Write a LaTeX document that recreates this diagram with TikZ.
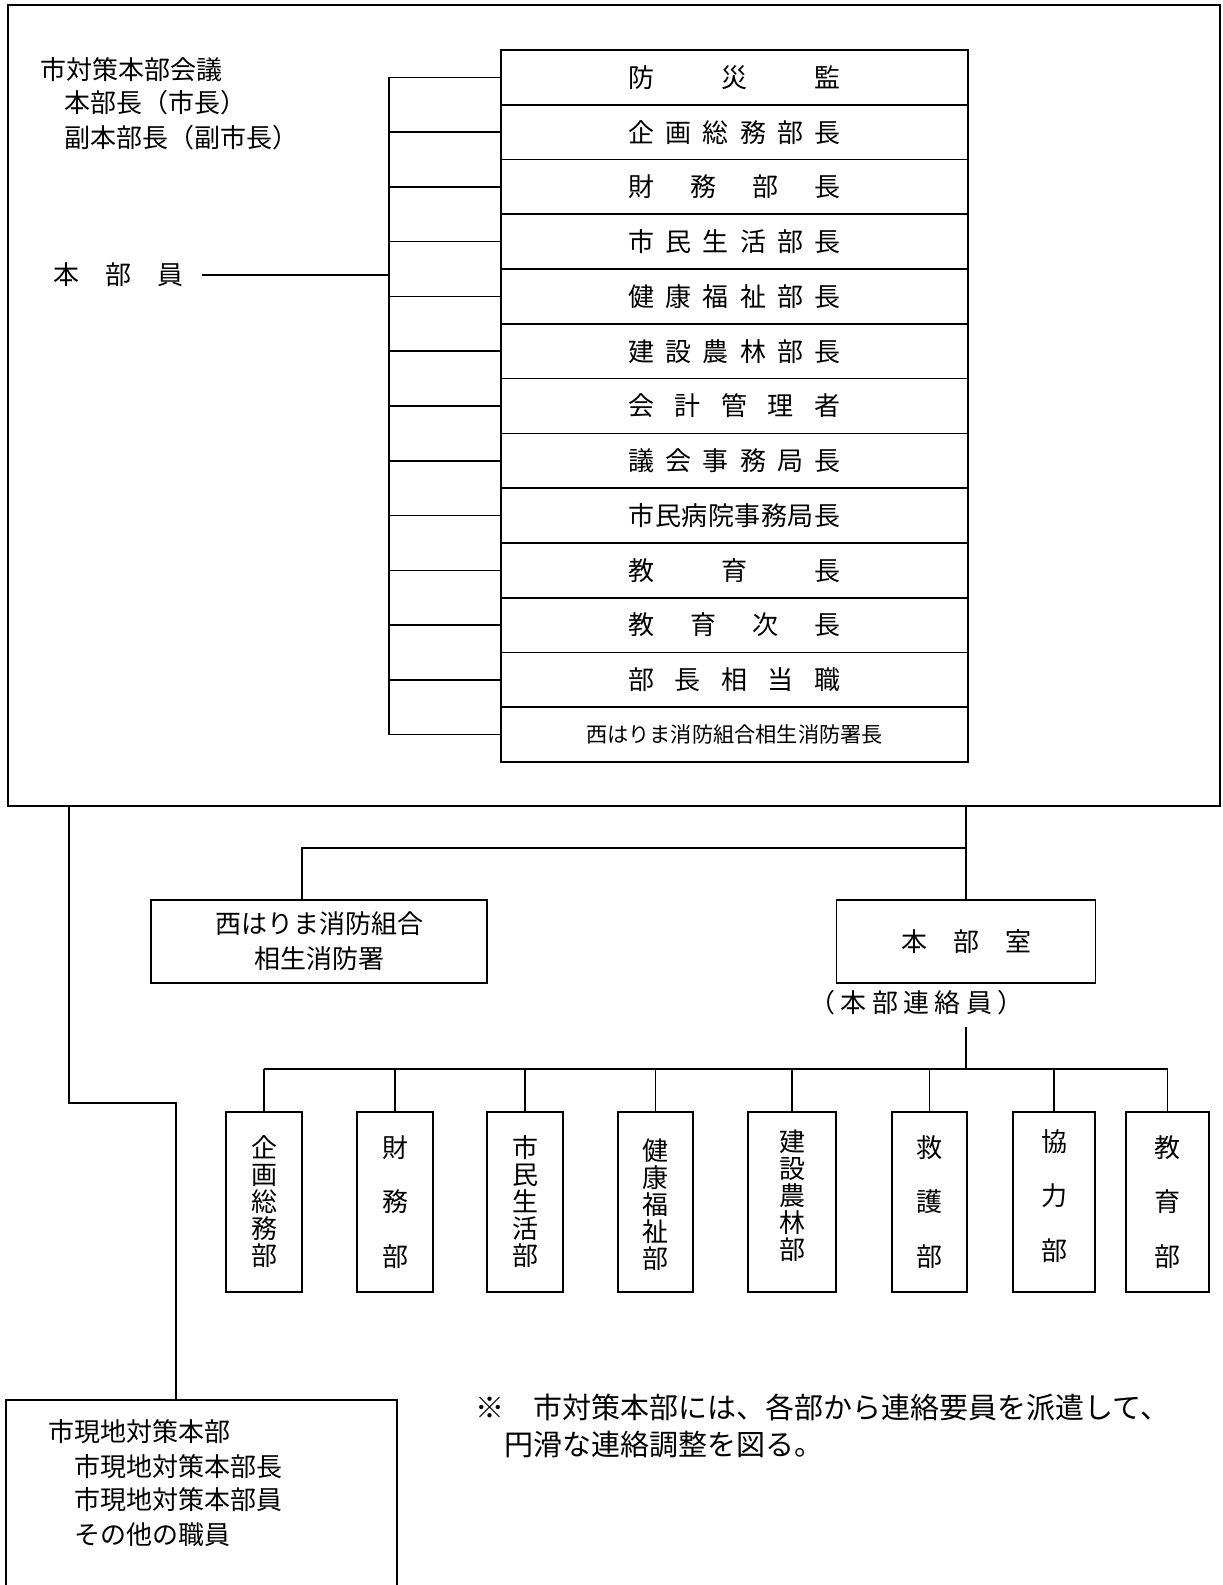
\documentclass[tikz,border=0pt]{standalone}
\usepackage{fontspec}
\newfontfamily\jp{Noto Sans CJK JP}
\usetikzlibrary{calc}
\begin{document}
\begin{tikzpicture}[x=0.5pt,y=-0.5pt,
  box/.style={draw,line width=0.85pt,inner sep=0pt},
  conn/.style={line width=0.8pt},
  thinln/.style={line width=0.65pt},
  txt/.style={inner sep=0pt,font=\jp\fontsize{13}{17}\selectfont},
  vtxt/.style={inner sep=0pt,align=center,font=\jp\fontsize{13}{13.5}\selectfont},
  note/.style={inner sep=0pt,anchor=west,font=\jp\fontsize{14.5}{18}\selectfont},
]
\useasboundingbox (0,0) rectangle (1222,1585);

% outer frame
\node[box,minimum width=606pt,minimum height=400.5pt] (outer) at (614,405.5) {};

% left texts
\node[txt,anchor=west] (kaigi) at (40,70) {市対策本部会議};
\node[txt,anchor=west] (honbucho) at (64,103) {本部長（市長）};
\node[txt,anchor=west] (fuku) at (64,138) {副本部長（副市長）};
\node[txt,anchor=west] (hbin) at (53,275) {本　部　員};

% column of members
\foreach \i/\t in {
 1/{防\hfill 災\hfill 監},
 2/{企\hfill 画\hfill 総\hfill 務\hfill 部\hfill 長},
 3/{財\hfill 務\hfill 部\hfill 長},
 4/{市\hfill 民\hfill 生\hfill 活\hfill 部\hfill 長},
 5/{健\hfill 康\hfill 福\hfill 祉\hfill 部\hfill 長},
 6/{建\hfill 設\hfill 農\hfill 林\hfill 部\hfill 長},
 7/{会\hfill 計\hfill 管\hfill 理\hfill 者},
 8/{議\hfill 会\hfill 事\hfill 務\hfill 局\hfill 長},
 9/{市\hfill 民\hfill 病\hfill 院\hfill 事\hfill 務\hfill 局\hfill 長},
 10/{教\hfill 育\hfill 長},
 11/{教\hfill 育\hfill 次\hfill 長},
 12/{部\hfill 長\hfill 相\hfill 当\hfill 職}}{
  \pgfmathsetmacro\yy{50+54.77*(\i-0.5)}
  \node[box,txt,minimum width=233.5pt,minimum height=27.385pt] (r\i) at (734.5,\yy) {\makebox[106pt][s]{\t}};
  \coordinate (t\i) at (389,\yy);
  \draw[conn] (t\i) -- (r\i.west);
}
\pgfmathsetmacro\yy{50+54.77*12.5}
\node[box,inner sep=0pt,minimum width=233.5pt,minimum height=27.385pt,font=\jp\fontsize{10.6}{12}\selectfont] (r13) at (734.5,\yy) {西はりま消防組合相生消防署長};
\coordinate (t13) at (389,\yy);
\draw[conn] (t13) -- (r13.west);
\draw[conn] (t1) -- (t13);

\coordinate (hl) at (202,275);
\coordinate (tm) at (389,275);
\draw[conn] (hl) -- (tm);

% middle level
\node[box,txt,minimum width=129.5pt,minimum height=41.5pt] (hq) at (966,941.5) {本　部　室};
\node[box,txt,align=center,minimum width=168pt,minimum height=41.5pt,font=\jp\fontsize{13}{17.5}\selectfont] (fire) at (319,941.5) {西はりま消防組合\\相生消防署};
\draw[thinln] (outer.south -| hq.north) -- (hq.north);
\coordinate (j1) at (966,848);
\coordinate (j2) at (302,848);
\draw[conn] (j1) -- (j2) -- (j2 |- fire.north);

\node[txt] (liaison) at (916.5,1003) {\makebox[107pt][s]{（\hfill 本\hfill 部\hfill 連\hfill 絡\hfill 員\hfill ）}};
\coordinate (l1) at (966,1027);
\coordinate (bar) at (966,1069);
\draw[thinln] (l1) -- (bar);

% departments
\foreach \i/\cx/\w/\dy/\t in {
 1/264/38/0/{企\\画\\総\\務\\部},
 2/395/38/0/{財\\[13.75pt]務\\[13.75pt]部},
 3/525/38/0/{市\\民\\生\\活\\部},
 4/655.5/37.5/-3/{健\\康\\福\\祉\\部},
 5/792/44/6/{建\\設\\農\\林\\部},
 6/929.5/37.5/0/{救\\[13.75pt]護\\[13.75pt]部},
 7/1054/41/6/{協\\[13.75pt]力\\[13.75pt]部},
 8/1167.5/41.5/0/{教\\[13.75pt]育\\[13.75pt]部}}{
  \node[box,minimum width=\w pt,minimum height=90pt] (b\i) at (\cx,1202) {};
  \node[vtxt] (bt\i) at (\cx,{1202-\dy}) {\t};
  \draw[thinln] (b\i.north |- bar) -- (b\i.north);
}
\draw[conn] (b1.north |- bar) -- (b8.north |- bar);

% local headquarters
\coordinate (g1) at (69,1103);
\coordinate (gtop) at (176,1400);
\draw[thinln] (outer.south -| g1) -- (g1) -| (gtop);
\draw[line width=0.85pt] (6,1592) -- (6,1400) -- (397,1400) -- (397,1592);
\node[txt,anchor=west] (gen) at (48,1432) {市現地対策本部};
\node[txt,anchor=west] (gen1) at (74,1467) {市現地対策本部長};
\node[txt,anchor=west] (gen2) at (74,1500) {市現地対策本部員};
\node[txt,anchor=west] (gen3) at (74,1535) {その他の職員};

% note
\node[note] (note1) at (475,1407) {※　市対策本部には、各部から連絡要員を派遣して、};
\node[note] (note2) at (504,1445) {円滑な連絡調整を図る。};
\end{tikzpicture}
\end{document}
